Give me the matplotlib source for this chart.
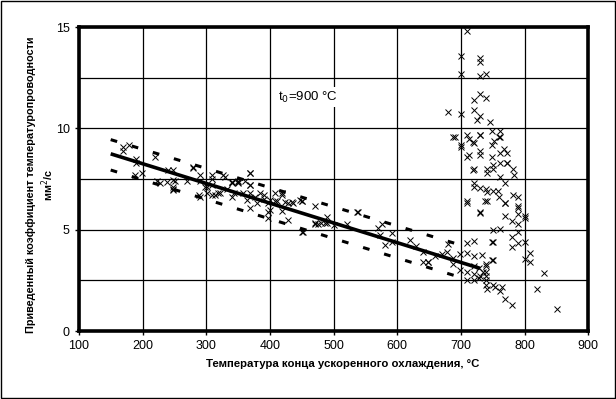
import matplotlib.pyplot as plt
import matplotlib.ticker as mticker

plt.rcParams['font.family'] = ['Liberation Sans', 'DejaVu Sans']

# measured points (temperature, diffusivity)
temp_x = [
    169, 179, 169, 190, 190, 220, 188, 199, 240, 248, 280, 290, 309, 327, 340, 350, 369,
    222, 227, 238, 248, 248, 251, 270, 288, 301, 301, 314, 322, 332, 340, 343, 350, 358,
    361, 369, 369, 377, 385, 390, 397, 397, 397, 408, 419, 419, 429, 429, 437, 450,
    248, 248, 280, 290, 309, 309, 298, 290, 309, 319, 330, 340, 350, 369, 369, 369, 340,
    364, 380, 390, 400, 408, 419, 400, 411, 424, 434, 447,
    450, 471, 471, 480, 490, 500, 490, 521, 539, 570, 576, 573, 592, 592, 581, 620,
    450, 471, 476, 487, 452, 537, 630, 641, 649, 660, 670, 678, 680, 688, 699,
    709, 700, 730, 730, 700, 730, 740, 720, 730, 740, 680, 700, 720, 725, 730, 745,
    762, 688, 713, 720, 730, 700, 749, 752, 760, 768, 772, 713, 730, 720, 741, 751,
    762, 772, 783, 720, 740, 760,
    690, 700, 709, 719, 730, 709, 730, 719, 741, 751, 762, 762, 772, 781, 749, 749,
    762, 720, 730, 741, 750, 758, 769, 781, 790, 790, 709, 730, 770, 801,
    738, 770, 790, 770, 780, 790, 801, 790, 751, 762, 780, 790, 790, 801, 780, 751,
    809, 809, 800, 751, 830, 740, 740, 740, 730, 735, 820, 741, 751, 762, 770, 780, 851,
    709, 730, 741, 709, 720, 749, 709, 720, 733, 749, 641, 649, 688, 699, 709, 720,
    720, 728, 728, 740, 740, 709, 720, 740, 754, 765,
]
diffusivity_y = [
    9.1, 9.2, 8.9, 8.5, 8.3, 8.6, 7.7, 7.8, 7.95, 7.95, 8.1, 7.7, 7.7, 7.7, 7.35, 7.35, 7.8,
    7.4, 7.3, 7.35, 7.0, 7.1, 7.4, 7.4, 6.7, 6.8, 7.1, 6.7, 6.8, 7.0, 7.35, 6.8, 7.4, 6.8,
    7.4, 7.2, 6.1, 6.6, 6.8, 6.7, 6.3, 5.9, 5.6, 6.8, 6.8, 5.95, 5.5, 6.3, 6.3, 6.4,
    7.45, 6.95, 8.05, 6.6, 7.2, 7.5, 7.1, 7.4, 6.7, 6.8, 7.6, 7.3, 7.3, 7.2, 6.8, 7.8, 6.6,
    6.45, 6.3, 6.5, 6.45, 6.4, 6.7, 6.0, 6.4, 6.35, 6.35, 6.45,
    6.4, 6.2, 5.3, 5.35, 5.65, 5.25, 5.35, 5.3, 5.9, 5.1, 5.3, 4.75, 4.85, 4.4, 4.25, 4.5,
    4.9, 5.35, 5.3, 5.35, 4.9, 5.9, 4.2, 3.9, 3.4, 3.7, 3.8, 3.9, 4.3, 3.6, 3.8,
    14.8, 13.6, 13.5, 13.3, 12.7, 12.6, 12.7, 11.4, 11.7, 11.5, 10.8, 10.7, 10.9, 10.4, 10.6, 10.3,
    9.9, 9.6, 9.5, 9.3, 9.7, 9.1, 9.9, 9.4, 9.6, 9.0, 8.8, 8.7, 8.9, 8.0, 7.8, 8.2,
    7.6, 8.3, 7.7, 7.3, 7.0, 6.6,
    9.6, 9.2, 9.7, 9.35, 9.7, 8.6, 8.7, 7.95, 8.0, 8.0, 8.8, 8.3, 8.3, 8.0, 8.6, 9.2,
    9.6, 7.1, 7.06, 6.86, 6.9, 6.9, 7.3, 6.7, 6.6, 6.1, 6.4, 5.9, 6.3, 5.6,
    6.4, 6.3, 6.2, 5.7, 5.45, 5.8, 5.7, 5.3, 5.0, 5.05, 4.65, 4.9, 4.35, 4.4, 4.15, 4.4,
    3.85, 3.4, 3.55, 3.5, 2.85, 3.3, 2.9, 2.5, 2.7, 2.9, 2.1, 2.1, 2.3, 2.0, 1.6, 1.3, 1.1,
    6.3, 5.85, 6.4, 4.35, 4.45, 4.4, 3.85, 3.7, 3.75, 3.5, 3.4, 3.4, 3.3, 3.0, 2.9, 3.2,
    2.8, 3.1, 2.6, 3.2, 2.7, 2.5, 2.5, 2.3, 2.2, 2.2,
]

# regression line and confidence band ends
fit_x = [150, 730]
fit_y = [8.75, 3.1]
band_x = [150, 710]
band_upper = [9.45, 4.15]
band_lower = [7.95, 2.55]

fig = plt.figure(figsize=(6.16, 3.99), dpi=100)
ax = fig.add_axes([0.128, 0.170, 0.827, 0.762])

ax.plot(temp_x, diffusivity_y, 'x', color='black', markersize=4, markeredgewidth=0.7, zorder=3)
ax.plot(fit_x, fit_y, color='black', lw=2.6, solid_capstyle='butt', zorder=4)
ax.plot(band_x, band_upper, color='black', lw=2.2, linestyle=(0, (2.2, 5)), zorder=4)
ax.plot(band_x, band_lower, color='black', lw=2.2, linestyle=(0, (2.2, 5)), zorder=4)

ax.set_xlim(100, 900)
ax.set_ylim(0, 15)
ax.xaxis.set_major_locator(mticker.MultipleLocator(100))
ax.yaxis.set_major_locator(mticker.MultipleLocator(5))
ax.yaxis.set_minor_locator(mticker.MultipleLocator(2.5))
ax.grid(True, which='both', color='black', lw=0.9)
ax.set_axisbelow(True)
ax.tick_params(which='major', length=3, width=1, labelsize=9, direction='out', colors='black')
ax.tick_params(which='minor', length=0)
for sp in ax.spines.values():
    sp.set_linewidth(2.6)

ax.text(460, 11.55, 't$_0$=900 °C', ha='center', va='center', fontsize=9.5,
        bbox=dict(facecolor='white', edgecolor='none', pad=1.5), zorder=5)

ax.set_xlabel('Температура конца ускоренного охлаждения, °С', fontsize=8.2,
              fontweight='bold')
ax.xaxis.set_label_coords(0.517, -0.09)
ax.set_ylabel('Приведенный коэффициент температуропроводности\nмм$^2$/с', fontsize=7.8,
              fontweight='bold', linespacing=1.25)
ax.yaxis.set_label_coords(-0.045, 0.48)

# outer frame around the whole figure
fig.patches.append(plt.Rectangle((0.001, 0.002), 0.997, 0.996, transform=fig.transFigure,
                                 fill=False, edgecolor='black', lw=1))

fig.savefig('out.png', dpi=100)
